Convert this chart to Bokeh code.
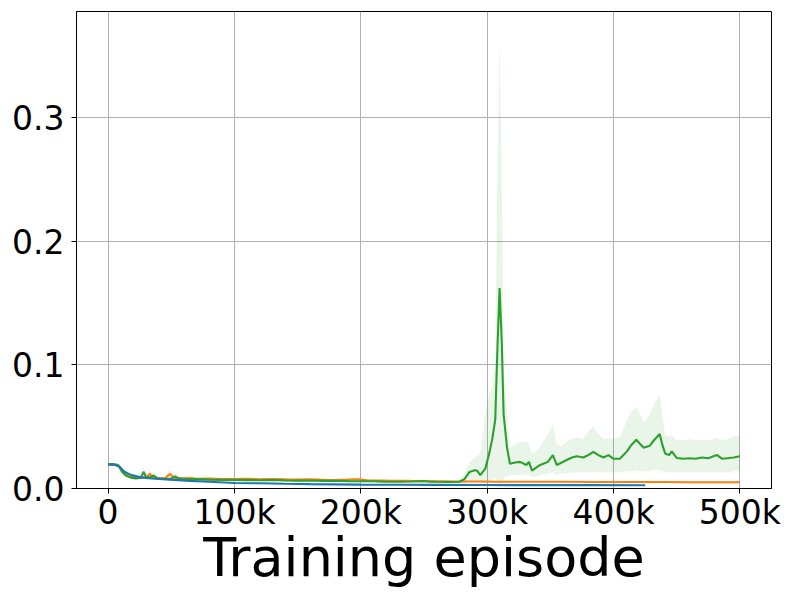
from bokeh.plotting import figure
from bokeh.models import Range1d, FixedTicker, ColumnDataSource
from bokeh.embed import file_html
from bokeh.resources import INLINE

# ---------------- data (x in thousands of episodes) ----------------
x_ticks = [0, 100000, 200000, 300000, 400000, 500000]
x_tick_labels = ["0", "100k", "200k", "300k", "400k", "500k"]
y_ticks = [0.0, 0.1, 0.2, 0.3]
y_tick_labels = ["0.0", "0.1", "0.2", "0.3"]
x_label = "Training episode"

green_x = [0, 5, 8, 11, 14, 18, 22, 26, 28, 30, 33, 36, 39, 45, 50, 53, 56, 62, 70, 80,
           90, 100, 110, 120, 130, 140, 150, 160, 170, 180, 190, 200, 210, 220, 230, 240,
           250, 255, 260, 270, 278, 282, 286, 290, 292, 294.5, 298.5, 302, 304, 306.4,
           308, 309.8, 311.5, 313, 315.7, 318, 322, 326, 331, 333, 335.5, 339, 342, 348,
           352, 355, 359, 363, 367, 371, 376, 380, 384, 388, 392, 396, 400, 405, 410.6,
           414, 418, 421, 424, 428.6, 432, 436.5, 439, 441, 444, 446, 450, 455, 460, 465,
           470, 475, 479, 482, 486, 490, 495, 500]
green_y = [.0195, .0195, .019, .0135, .0105, .0088, .0082, .0088, .0135, .0095, .0088, .0105,
           .0082, .0078, .008, .0098, .008, .0075, .0076, .0072, .007, .007, .0068, .0067,
           .0069, .0066, .0064, .0065, .0062, .0063, .006, .0059, .0058, .0055, .0055, .0057,
           .0061, .0055, .0054, .0053, .0055, .0075, .0134, .0148, .0145, .0108, .016, .03,
           .04, .0556, .11, .162, .12, .06, .033, .02, .021, .0215, .019, .0215, .0145, .017,
           .019, .0215, .027, .019, .021, .023, .025, .026, .025, .027, .0296, .027, .025,
           .027, .024, .024, .030, .035, .0395, .036, .033, .0345, .039, .044, .034, .028,
           .027, .030, .0247, .024, .0245, .024, .025, .0245, .026, .027, .024, .0245, .025, .026]
green_lo = [.0185, .0185, .018, .012, .009, .0078, .0074, .0078, .0095, .0082, .0078, .008,
            .0074, .007, .0072, .008, .0072, .0068, .0068, .0065, .0063, .0063, .0061, .006,
            .0062, .0059, .0057, .0058, .0055, .0056, .0053, .0052, .0051, .0048, .0048, .005,
            .0053, .0048, .0047, .0046, .0047, .004, .006, .007, .006, .004, .005, .006,
            .008, .008, .005, .0, .004, .008, .01, .011, .011, .011, .011, .012, .009, .01,
            .011, .012, .013, .011, .012, .012, .013, .013, .013, .013, .014, .013, .013,
            .013, .013, .013, .014, .014, .015, .014, .014, .014, .015, .015, .014, .013,
            .013, .013, .013, .013, .013, .013, .013, .013, .013, .013, .013, .013, .014, .014]
green_hi = [.0205, .0205, .020, .015, .012, .0098, .009, .0105, .0175, .011, .0105, .013,
            .009, .0086, .0088, .012, .0088, .0082, .0084, .008, .0077, .0077, .0075, .0074,
            .0076, .0073, .0071, .0072, .0069, .007, .0067, .0066, .0065, .0062, .0062, .0064,
            .0069, .0062, .0061, .006, .0065, .012, .021, .025, .026, .028, .06, .078,
            .08, .10, .25, .365, .25, .10, .06, .033, .036, .038, .038, .036, .028, .03,
            .034, .044, .052, .036, .034, .038, .040, .041, .040, .046, .050, .044, .040,
            .041, .040, .042, .055, .062, .066, .060, .053, .060, .068, .076, .055, .043,
            .042, .043, .039, .039, .040, .039, .039, .039, .040, .041, .039, .040, .042, .043]

orange_x = [0, 5, 9, 13, 17, 22, 27, 31, 33, 35, 40, 45, 49, 52, 58, 65, 70, 80, 90, 100,
            110, 120, 130, 140, 150, 160, 170, 180, 190, 198, 205, 215, 225, 235, 245, 255,
            265, 275, 285, 295, 305, 320, 340, 360, 380, 400, 420, 440, 460, 480, 500]
orange_y = [.0195, .0193, .0178, .0125, .0095, .0088, .0085, .0095, .012, .0092, .0085,
            .0082, .0118, .0088, .0082, .0085, .0078, .008, .0076, .0077, .0079, .0075,
            .0077, .0074, .0072, .0074, .007, .0069, .0072, .0075, .0066, .0064, .0062,
            .0063, .006, .0058, .0059, .0057, .0056, .0056, .0055, .0055, .0054, .0054,
            .0053, .0053, .0052, .0052, .0051, .0051, .0050]
orange_lo = [.0188, .0186, .017, .0115, .0087, .0081, .0078, .0085, .0095, .0084, .0078,
             .0075, .009, .008, .0075, .0077, .0071, .0073, .0069, .007, .0072, .0068,
             .007, .0067, .0065, .0067, .0063, .0062, .0065, .0067, .006, .0058, .0056,
             .0057, .0054, .0052, .0053, .0051, .005, .005, .0049, .0049, .0048, .0048,
             .0047, .0047, .0046, .0046, .0045, .0045, .0044]
orange_hi = [.0202, .02, .0186, .0135, .0103, .0095, .0092, .0105, .0155, .01, .0092,
             .0089, .0155, .0096, .0089, .0093, .0085, .0087, .0083, .0084, .0086, .0082,
             .0084, .0081, .0079, .0081, .0077, .0076, .0079, .0084, .0072, .007, .0068,
             .0069, .0066, .0064, .0065, .0063, .0062, .0062, .0061, .0061, .006, .006,
             .0059, .0059, .0058, .0058, .0057, .0057, .0056]

blue_x = [0, 5, 9, 13, 18, 25, 32, 40, 52, 65, 80, 100, 120, 140, 160, 180, 200, 230, 260,
          300, 340, 380, 425]
blue_y = [.0195, .0193, .0175, .0135, .011, .0092, .0083, .0077, .007, .0062, .0055, .0045,
          .0042, .0038, .0035, .0033, .0031, .0030, .0029, .0028, .0027, .0027, .0026]
blue_lo = [.0191, .0189, .017, .013, .0105, .0088, .0079, .0073, .0066, .0058, .0051, .0042,
           .0039, .0035, .0032, .003, .0028, .0027, .0026, .0025, .0024, .0024, .0023]
blue_hi = [.0199, .0197, .018, .014, .0115, .0096, .0087, .0081, .0074, .0066, .0059, .0048,
           .0045, .0041, .0038, .0036, .0034, .0033, .0032, .0031, .003, .003, .0029]

C0, C1, C2 = "#1f77b4", "#ff7f0e", "#2ca02c"

def src(xs, ys, lo, hi):
    return ColumnDataSource(dict(x=[v * 1000 for v in xs], y=ys, lo=lo, hi=hi))

s_g = src(green_x, green_y, green_lo, green_hi)
s_o = src(orange_x, orange_y, orange_lo, orange_hi)
s_b = src(blue_x, blue_y, blue_lo, blue_hi)

p = figure(width=785, height=592, x_range=Range1d(-25000, 525000),
           y_range=Range1d(0, 0.3855), output_backend="svg", toolbar_location=None,
           min_border_left=76, min_border_right=14, min_border_top=11, min_border_bottom=104)

FONT = "DejaVu Sans"

for s, c in [(s_b, C0), (s_o, C1), (s_g, C2)]:
    p.varea(x="x", y1="lo", y2="hi", source=s, fill_color=c, fill_alpha=0.1)

for s, c in [(s_o, C1), (s_g, C2), (s_b, C0)]:
    p.line(x="x", y="y", source=s, line_color=c, line_width=2.1)

p.xaxis.ticker = FixedTicker(ticks=x_ticks)
p.xaxis.major_label_overrides = {t: l for t, l in zip(x_ticks, x_tick_labels)}
p.yaxis.ticker = FixedTicker(ticks=y_ticks)
p.yaxis.major_label_overrides = {t: l for t, l in zip(y_ticks, y_tick_labels)}

p.xaxis.axis_label = x_label
p.xaxis.axis_label_text_font = FONT
p.xaxis.axis_label_text_font_size = "54px"
p.xaxis.axis_label_text_font_style = "normal"
p.xaxis.axis_label_text_color = "black"
p.xaxis.axis_label_standoff = -9

for ax in (p.xaxis, p.yaxis):
    ax.major_label_text_font = FONT
    ax.major_label_text_font_size = "33px"
    ax.major_label_text_color = "black"
    ax.major_tick_out = 5
    ax.major_tick_in = 0
    ax.minor_tick_out = 0
    ax.minor_tick_in = 0
    ax.axis_line_color = "black"
    ax.major_tick_line_color = "black"
    ax.axis_line_width = 1
p.xaxis.major_label_standoff = -1
p.yaxis.major_label_standoff = 7

p.grid.grid_line_color = "#b0b0b0"
p.grid.grid_line_width = 1
p.outline_line_color = "black"
p.outline_line_width = 1
p.outline_line_alpha = 1
p.background_fill_color = "white"
p.border_fill_color = "white"

open("out.html", "w").write(file_html(p, INLINE))
